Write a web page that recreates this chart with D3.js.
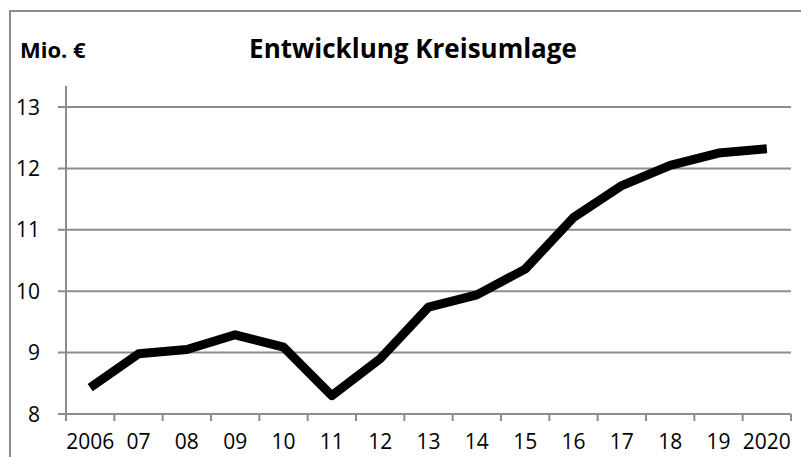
<!DOCTYPE html>
<html>
<head>
<meta charset="utf-8">
<script src="https://cdn.jsdelivr.net/npm/d3@7"></script>
<style>
  html, body { margin: 0; padding: 0; background: #fff; }
  svg { display: block; font-family: "Open Sans", sans-serif; }
</style>
</head>
<body>
<div id="container"></div>
<script>
const years = ['2006', '07', '08', '09', '10', '11', '12', '13', '14', '15', '16', '17', '18', '19', '2020'];
const values = [8.43, 8.98, 9.05, 9.29, 9.09, 8.30, 8.90, 9.74, 9.94, 10.36, 11.20, 11.72, 12.05, 12.25, 12.32];
const yTicks = [8, 9, 10, 11, 12, 13];
const title = 'Entwicklung Kreisumlage';
const unitLabel = 'Mio. €';

const width = 801, height = 457;
const margin = { top: 86, left: 66 };
const plotRight = 791;
const y8 = 414, y13 = 107;

const svg = d3.select('#container').append('svg').attr('width', width).attr('height', height);

// outer frame (right and bottom run out of the picture)
svg.append('rect').attr('x', 10).attr('y', 11).attr('width', 810).attr('height', 470)
  .attr('fill', 'none').attr('stroke', '#8c8c8c').attr('stroke-width', 2);

const x = d3.scaleBand().domain(years).range([margin.left, plotRight]);
const y = d3.scaleLinear().domain([8, 13]).range([y8, y13]);

// gridlines + y labels
yTicks.forEach(t => {
  svg.append('line').attr('x1', 58).attr('x2', plotRight).attr('y1', y(t)).attr('y2', y(t))
    .attr('stroke', '#8c8c8c').attr('stroke-width', 2);
  svg.append('text').attr('x', 40).attr('y', y(t)).attr('dy', '0.36em').attr('text-anchor', 'end')
    .attr('font-size', 21).attr('fill', '#000').text(t);
});

// y axis line
svg.append('line').attr('x1', margin.left).attr('x2', margin.left).attr('y1', margin.top).attr('y2', y8 + 7)
  .attr('stroke', '#8c8c8c').attr('stroke-width', 2);

// x tick marks at band boundaries
const bounds = years.map(d => x(d)).concat([plotRight]);
bounds.forEach(b => {
  svg.append('line').attr('x1', b).attr('x2', b).attr('y1', y8).attr('y2', y8 + 7)
    .attr('stroke', '#8c8c8c').attr('stroke-width', 2);
});

years.forEach(d => {
  svg.append('text').attr('x', x(d) + x.bandwidth() / 2).attr('y', 441).attr('dy', '0.36em')
    .attr('text-anchor', 'middle').attr('font-size', 21).attr('fill', '#000').text(d);
});

// the line
const line = d3.line().x((d, i) => x(years[i]) + x.bandwidth() / 2).y(d => y(d));
svg.append('path').datum(values).attr('d', line).attr('fill', 'none')
  .attr('stroke', '#000').attr('stroke-width', 9).attr('stroke-linejoin', 'round').attr('stroke-linecap', 'butt');

// titles
svg.append('text').attr('x', 413).attr('y', 58).attr('text-anchor', 'middle')
  .attr('font-size', 26).attr('font-weight', 'bold').attr('fill', '#000').text(title);
svg.append('text').attr('x', 20).attr('y', 58)
  .attr('font-size', 22).attr('font-weight', 'bold').attr('fill', '#000').text(unitLabel);
</script>
</body>
</html>
